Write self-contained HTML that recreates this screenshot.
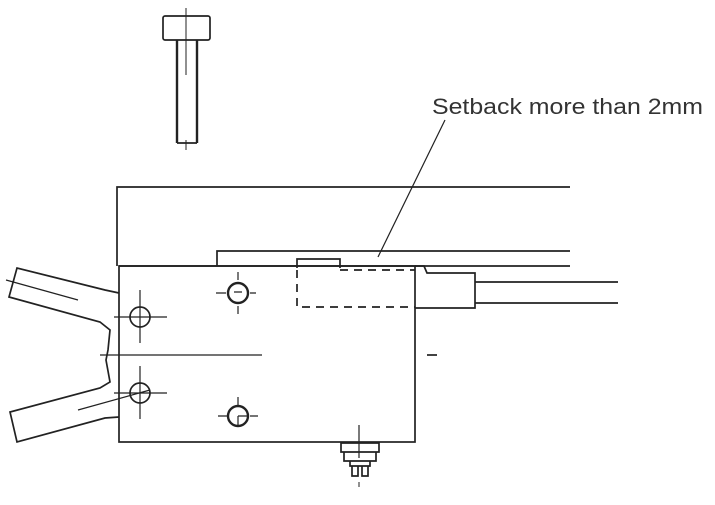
<!DOCTYPE html>
<html><head><style>html,body{margin:0;padding:0;background:#fff;}svg{display:block}</style></head>
<body>
<svg width="715" height="505" viewBox="0 0 715 505" xmlns="http://www.w3.org/2000/svg">
<g fill="none" stroke="#222" stroke-width="1.7">
<!-- screw -->
<rect x="163" y="16" width="47" height="24" rx="2"/>
<line x1="177" y1="40" x2="177" y2="143" stroke-width="2.4"/>
<line x1="197" y1="40" x2="197" y2="143" stroke-width="2.4"/>
<line x1="177" y1="143" x2="197" y2="143"/>
<line x1="186" y1="8" x2="186" y2="75" stroke-width="1"/>
<line x1="186" y1="140" x2="186" y2="150" stroke-width="1"/>
<!-- top plate -->
<polyline points="570,187 117,187 117,266"/>
<polyline points="217,266 217,251 570,251"/>
<line x1="119" y1="266" x2="570" y2="266"/>
<!-- block -->
<rect x="119" y="266" width="296" height="176"/>
<!-- bump and dashed -->
<polyline points="297,268 297,259 340,259 340,268"/>
<path d="M297,270 L297,307 L415,307 M340,270 L415,270" stroke-dasharray="8,6"/>
<!-- connector -->
<polyline points="415,266 424,266 427,273 475,273 475,308 415,308"/>
<line x1="475" y1="282" x2="618" y2="282"/>
<line x1="475" y1="303" x2="618" y2="303"/>
<line x1="427" y1="355" x2="437" y2="355"/>
<!-- leader -->
<line x1="445" y1="120" x2="378" y2="257" stroke-width="1.2"/>
<!-- jaws -->
<polyline points="119,293 105,290 17,268 9,297 100,322 110,330 108,350 106,360 110,382 100,388 10,412 17,442 105,418 119,417"/>
<line x1="6" y1="280" x2="78" y2="300" stroke-width="1.2"/>
<line x1="78" y1="410" x2="150" y2="390" stroke-width="1.2"/>
<line x1="100" y1="355" x2="262" y2="355" stroke-width="1.2"/>
<!-- left holes -->
<circle cx="140" cy="317" r="10"/>
<path d="M140,290 V343 M114,317 H167" stroke-width="1.2"/>
<circle cx="140" cy="393" r="10"/>
<path d="M140,366 V419 M114,393 H167" stroke-width="1.2"/>
<!-- right holes -->
<circle cx="238" cy="293" r="10" stroke-width="2.4"/>
<path d="M238,272 V280 M238,306 V314 M216,293 H226 M250,293 H256 M234,292 H242" stroke-width="1.2"/>
<circle cx="238" cy="416" r="10" stroke-width="2.4"/>
<path d="M238,397 V405 M218,416 H228 M250,416 H258 M238,416 V426 M238,416 H248" stroke-width="1.2"/>
<!-- bottom bolt -->
<line x1="359" y1="425" x2="359" y2="458" stroke-width="1.2"/>
<path d="M341,443 H379 V452 H341 Z M344,452 H376 V461 H344 Z M350,461 H370 V466 H350 Z M352,466 V476 H358 V466 M362,466 V476 H368 V466"/>
<line x1="359" y1="482" x2="359" y2="487" stroke-width="1"/>
</g>
<text x="432" y="114" font-family="Liberation Sans, sans-serif" font-size="22" fill="#333" textLength="271" lengthAdjust="spacingAndGlyphs">Setback more than 2mm</text>
</svg>
</body></html>
